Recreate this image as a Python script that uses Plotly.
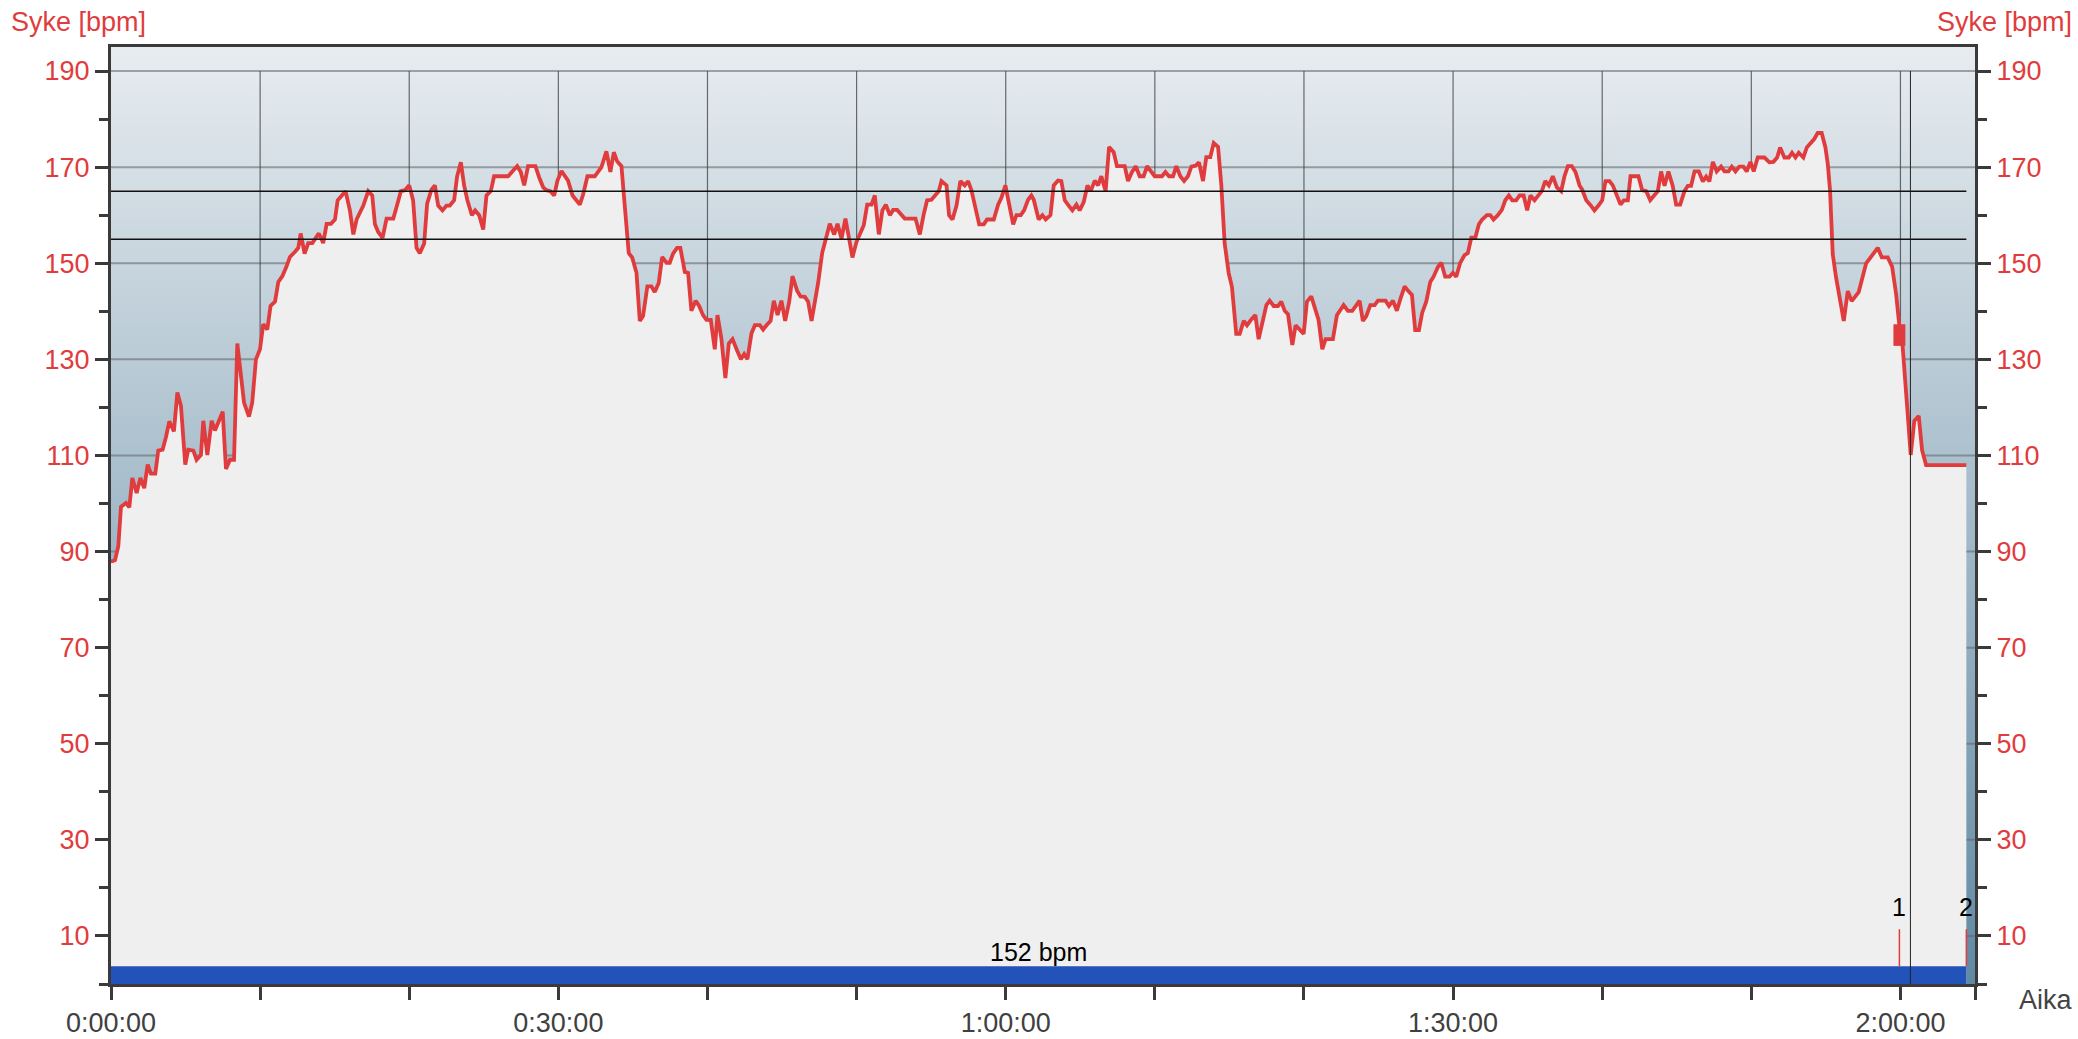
import plotly.graph_objects as go

# ---------------- data (time in minutes, heart rate in bpm) ----------------
seg_a_time = [0.0, 0.11, 0.27, 0.49, 0.67, 1.01, 1.23, 1.43, 1.72, 1.97,
              2.23, 2.46, 2.68, 2.97, 3.17, 3.46, 3.69, 3.91, 4.22, 4.45,
              4.69, 4.98, 5.18, 5.52, 5.74, 6.03, 6.19, 6.46, 6.75, 6.97,
              7.49, 7.71, 7.98, 8.25, 8.47, 8.92, 9.25, 9.47, 9.72, 9.99,
              10.21, 10.48, 10.70, 11.0, 11.22, 11.49, 11.78, 12.0, 12.34, 12.56,
              12.72, 12.98, 13.23, 13.5, 13.94, 14.23, 14.46, 14.75, 15.02, 15.2,
              15.73, 16.02, 16.25, 16.47, 16.92, 17.25, 17.52, 17.7, 17.92, 18.21,
              18.48, 18.93, 19.15, 19.44, 19.71, 20.0]
seg_a_hr = [88.0, 88.0, 88.2, 91.1, 99.3, 100.1, 99.2, 105.3, 102.2, 105.3,
            103.2, 108.1, 106.2, 106.2, 111.0, 111.2, 113.9, 117.1, 115.0, 123.1,
            120.3, 108.1, 111.2, 111.0, 109.1, 110.1, 117.2, 110.1, 117.2, 115.2,
            119.1, 107.2, 109.1, 109.1, 133.3, 121.0, 118.1, 121.0, 130.0, 132.1,
            137.3, 136.2, 141.1, 142.0, 146.1, 147.3, 149.4, 151.3, 152.4, 153.2,
            156.2, 152.0, 154.2, 154.2, 156.2, 154.2, 158.2, 158.2, 159.1, 163.1,
            165.0, 161.0, 156.0, 159.1, 162.0, 165.0, 164.1, 158.1, 156.5, 155.3,
            159.3, 159.3, 161.7, 165.0, 165.2, 166.2]

seg_b_time = [20.26, 20.49, 20.71, 21.0, 21.2, 21.49, 21.72, 21.94, 22.23, 22.5,
              22.72, 23.01, 23.21, 23.46, 23.68, 23.9, 24.2, 24.42, 24.69, 24.96,
              25.18, 25.47, 25.69, 26.63, 26.97, 27.24, 27.48, 27.71, 27.97, 28.46,
              28.71, 28.98, 29.2, 29.47, 29.72, 29.94, 30.21, 30.65, 30.95, 31.44,
              31.66, 31.95, 32.44, 32.89, 33.22, 33.49, 33.72, 33.94, 34.23, 34.45,
              34.72, 34.95, 35.24, 35.46, 35.68, 35.97, 36.24, 36.46, 36.73, 36.96,
              37.25, 37.47, 37.69, 37.96, 38.18, 38.48, 38.7, 38.92, 39.21, 39.44,
              39.7, 39.93, 40.22, 40.49, 40.67, 40.93, 41.2]
seg_b_hr = [163.1, 153.2, 152.1, 154.1, 162.4, 165.3, 166.2, 162.0, 161.0, 162.0,
            162.0, 163.1, 168.1, 171.0, 166.2, 163.1, 160.0, 161.0, 160.0, 157.0,
            164.1, 165.0, 168.1, 168.1, 169.3, 170.2, 169.0, 166.2, 170.2, 170.2,
            167.9, 165.8, 165.2, 165.0, 164.1, 167.2, 169.2, 167.2, 164.1, 162.2,
            164.3, 168.1, 168.1, 170.0, 173.3, 169.0, 173.1, 171.2, 170.2, 162.0,
            152.1, 151.2, 148.0, 138.0, 139.0, 145.2, 145.2, 144.0, 145.9, 151.3,
            150.1, 150.1, 152.0, 153.2, 153.2, 148.2, 148.0, 140.1, 142.2, 141.1,
            139.2, 138.2, 138.2, 132.1, 139.2, 134.4, 126.1]

seg_c_time = [41.43, 41.68, 41.95, 42.24, 42.46, 42.68, 42.95, 43.18, 43.51, 43.73,
              43.96, 44.23, 44.45, 44.7, 44.96, 45.21, 45.48, 45.7, 46.01, 46.24,
              46.53, 46.75, 46.98, 47.42, 47.69, 47.94, 48.2, 48.5, 48.72, 48.99,
              49.25, 49.5, 49.72, 49.99, 50.22, 50.48, 50.71, 51.0, 51.22, 51.49,
              51.73, 51.96, 52.23, 52.45, 52.72, 53.23, 53.95, 54.24, 54.51, 54.73,
              55.02, 55.24, 55.51, 55.69, 56.03, 56.2, 56.43, 56.7, 56.96, 57.25,
              57.48, 57.7, 58.22, 58.53, 58.75, 59.2, 59.49, 59.71, 59.98, 60.2,
              60.5, 60.72, 61.01, 61.23, 61.5, 61.72]
seg_c_hr = [133.3, 134.2, 132.1, 130.0, 131.1, 130.0, 135.4, 137.1, 137.1, 136.2,
            137.1, 138.0, 142.2, 139.2, 142.2, 138.0, 142.0, 147.3, 144.3, 143.1,
            143.0, 142.0, 138.0, 145.9, 152.1, 155.1, 158.2, 156.0, 158.2, 155.1,
            159.3, 155.1, 151.2, 154.4, 156.2, 157.9, 162.2, 162.2, 164.1, 156.0,
            161.0, 162.2, 160.0, 161.1, 161.1, 159.3, 159.3, 156.0, 160.3, 163.1,
            163.2, 164.1, 165.0, 167.1, 166.2, 160.0, 159.1, 162.0, 167.1, 166.2,
            167.1, 165.2, 158.1, 158.1, 159.1, 159.1, 162.2, 163.6, 166.2, 162.7,
            158.1, 160.0, 160.0, 161.0, 163.2, 164.1]

seg_d_time = [61.88, 62.21, 62.46, 62.68, 63.0, 63.22, 63.51, 63.73, 63.96, 64.22,
              64.47, 64.74, 64.96, 65.23, 65.48, 65.7, 65.97, 66.19, 66.41, 66.7,
              66.93, 67.24, 67.46, 67.98, 68.2, 68.47, 68.72, 68.98, 69.25, 69.48,
              69.99, 70.48, 70.71, 70.95, 71.22, 71.44, 71.71, 71.96, 72.22, 72.45,
              72.74, 72.96, 73.23, 73.45, 73.72, 73.95, 74.24, 74.46, 74.68, 74.95,
              75.17, 75.46, 75.69, 75.96, 76.18, 76.47, 76.74, 76.96, 77.21, 77.48,
              77.7, 77.97, 78.26, 78.48, 78.71, 78.93, 79.22, 79.44, 79.71, 79.98,
              80.2, 80.49, 80.98, 81.23, 81.45, 81.94, 82.21, 82.46]
seg_d_hr = [163.2, 159.1, 160.0, 159.1, 160.0, 166.2, 167.2, 167.1, 163.1, 162.0,
            161.0, 162.2, 161.0, 162.7, 166.2, 165.0, 167.2, 166.2, 168.1, 165.0,
            174.2, 173.1, 170.2, 170.2, 167.1, 169.0, 170.2, 168.1, 168.1, 170.2,
            168.1, 168.1, 169.0, 168.1, 168.1, 170.2, 168.1, 167.1, 168.1, 170.1,
            170.3, 171.0, 167.1, 172.1, 172.1, 175.0, 174.2, 166.2, 154.2, 148.0,
            145.1, 135.3, 135.3, 138.0, 137.1, 138.3, 139.2, 134.2, 137.3, 141.3,
            142.2, 141.1, 141.1, 142.0, 140.1, 139.4, 133.0, 137.1, 136.2, 135.3,
            142.0, 143.1, 138.2, 132.1, 134.2, 134.2, 139.2, 140.2]

seg_e_time = [82.66, 82.95, 83.24, 83.73, 83.95, 84.18, 84.45, 84.74, 84.96, 85.47,
              85.7, 85.97, 86.23, 86.48, 86.75, 86.97, 87.24, 87.46, 87.71, 87.93,
              88.2, 88.47, 88.69, 88.98, 89.21, 89.47, 89.76, 89.99, 90.21, 90.48,
              90.77, 90.99, 91.22, 91.49, 91.73, 91.95, 92.27, 92.49, 92.71, 93.0,
              93.27, 93.5, 93.74, 93.97, 94.23, 94.46, 94.73, 94.97, 95.19, 95.46,
              95.73, 95.95, 96.18, 96.42, 96.69, 96.96, 97.25, 97.47, 97.7, 97.96,
              98.21, 98.48, 98.66, 98.93, 99.19, 99.48, 99.75, 100.0, 100.22, 100.49,
              100.71, 101.23, 101.45, 101.72, 101.9, 102.43, 102.68, 102.95, 103.22, 103.51,
              103.73]
seg_e_hr = [141.3, 140.1, 140.1, 142.2, 138.0, 139.0, 141.3, 141.3, 142.2, 142.2,
            141.1, 142.2, 140.1, 142.7, 145.2, 144.3, 143.4, 136.1, 136.1, 139.7,
            142.0, 146.1, 147.2, 149.2, 150.1, 147.2, 147.2, 148.0, 147.2, 150.1,
            151.7, 152.1, 155.3, 155.3, 158.1, 159.1, 160.0, 160.0, 159.1, 160.0,
            161.1, 163.1, 164.1, 163.1, 163.1, 164.1, 164.1, 161.0, 164.1, 163.1,
            164.1, 165.0, 167.1, 166.2, 168.1, 165.8, 165.0, 168.1, 170.2, 170.2,
            169.0, 166.2, 165.3, 163.1, 162.2, 161.0, 162.0, 163.1, 167.1, 167.1,
            166.2, 162.2, 163.1, 163.1, 168.1, 168.1, 165.2, 165.0, 163.1, 164.1,
            165.0]

seg_f_time = [103.95, 104.18, 104.44, 104.73, 104.96, 105.23, 105.52, 105.74, 105.96, 106.19,
              106.48, 106.75, 106.97, 107.19, 107.42, 107.68, 107.97, 108.2, 108.47, 108.69,
              108.94, 109.2, 109.47, 109.69, 109.94, 110.16, 110.43, 110.88, 111.21, 111.48,
              111.73, 111.93, 112.22, 112.51, 112.73, 112.96, 113.18, 113.49, 113.72, 114.0,
              114.23, 114.45, 114.72, 114.97, 115.13, 115.28, 115.46, 115.68, 115.95, 116.2,
              116.47, 116.73, 117.2, 117.7, 118.48, 118.75, 119.15, 119.44, 119.71, 119.93,
              120.15, 120.38, 120.69, 120.93, 121.23, 121.45, 121.72, 124.42]
seg_f_hr = [169.1, 166.1, 169.1, 166.1, 162.2, 162.2, 165.0, 166.1, 166.1, 169.1,
            169.1, 167.0, 168.0, 167.0, 171.1, 169.1, 170.1, 169.1, 169.1, 170.1,
            169.1, 170.1, 170.1, 169.1, 171.1, 169.1, 172.0, 172.0, 171.0, 171.1,
            172.0, 174.1, 172.0, 172.0, 173.0, 172.0, 173.0, 172.0, 174.1, 175.1,
            175.9, 177.1, 177.1, 174.1, 170.6, 165.1, 151.9, 147.1, 142.2, 138.0,
            144.2, 142.1, 144.0, 150.0, 153.2, 151.2, 151.2, 149.3, 143.6, 136.9,
            132.6, 123.6, 110.1, 117.2, 118.2, 111.1, 108.0, 108.0]

time_min = seg_a_time + seg_b_time + seg_c_time + seg_d_time + seg_e_time + seg_f_time
hr_bpm = seg_a_hr + seg_b_hr + seg_c_hr + seg_d_hr + seg_e_hr + seg_f_hr
assert len(time_min) == len(hr_bpm)

lap_times = [119.93, 124.42]          # minutes
lap_labels = ["1", "2"]
lap1_marker_hr = [132.8, 137.3]       # bpm span of the lap-1 marker
avg_hr = 152
cursor_time = 120.67                  # minutes
zone_limits = [155, 165]

y_major = list(range(10, 191, 20))
y_minor = list(range(0, 181, 20))
x_ticks = list(range(0, 121, 10)) + [125]
x_grid = list(range(10, 121, 10))

X_MAX = 125
Y_MAX = 195


def fmt(m):
    return f"{m // 60}:{m % 60:02d}:00"


x_ticktext = [fmt(m) if (m % 30 == 0 and m <= 120) else "" for m in x_ticks]

RED = "#e03c3e"
AXIS = "#3a3a3a"
FONT = "Liberation Sans, Arial, Helvetica, sans-serif"

fig = go.Figure()

# gradient background
fig.add_trace(go.Scatter(
    x=[0, X_MAX, X_MAX, 0, 0], y=[0, 0, Y_MAX, Y_MAX, 0],
    mode="lines", line=dict(width=0), fill="toself",
    fillgradient=dict(type="vertical",
                      colorscale=[[0, "#6089a2"], [1, "#e7ecf0"]]),
    hoverinfo="skip", showlegend=False))

# gridlines (drawn under the HR fill)
gx, gy = [], []
for v in y_major:
    gx += [0, X_MAX, None]
    gy += [v, v, None]
fig.add_trace(go.Scatter(x=gx, y=gy, mode="lines",
                         line=dict(color="rgba(95,98,102,0.55)", width=2),
                         hoverinfo="skip", showlegend=False))
vx, vy = [], []
for m in x_grid:
    vx += [m, m, None]
    vy += [0, 190, None]
fig.add_trace(go.Scatter(x=vx, y=vy, mode="lines",
                         line=dict(color="rgba(60,62,66,0.75)", width=1.2),
                         hoverinfo="skip", showlegend=False))

# heart rate
fig.add_trace(go.Scatter(x=time_min, y=hr_bpm, mode="lines",
                         line=dict(color=RED, width=3.8),
                         fill="tozeroy", fillcolor="#efefef",
                         showlegend=False))
# dummy on right axis so it renders
fig.add_trace(go.Scatter(x=time_min, y=hr_bpm, yaxis="y2", mode="lines",
                         line=dict(width=0), opacity=0, hoverinfo="skip",
                         showlegend=False))

shapes = []
# average HR band
shapes.append(dict(type="rect", xref="x", yref="y", x0=0, x1=lap_times[-1],
                   y0=0, y1=3.7, fillcolor="#2352b9", line=dict(width=0),
                   layer="above"))
# zone limit lines
for z in zone_limits:
    shapes.append(dict(type="line", xref="x", yref="y", x0=0, x1=lap_times[-1],
                       y0=z, y1=z, line=dict(color="#111111", width=1.5),
                       layer="above"))
# lap markers
for t in lap_times:
    shapes.append(dict(type="line", xref="x", yref="y", x0=t, x1=t,
                       y0=3.7, y1=11.4, line=dict(color=RED, width=1.5),
                       layer="above"))
shapes.append(dict(type="rect", xref="x", yref="y",
                   x0=lap_times[0] - 0.4, x1=lap_times[0] + 0.4,
                   y0=lap1_marker_hr[0], y1=lap1_marker_hr[1],
                   fillcolor=RED, line=dict(width=0), layer="above"))
# cursor line
shapes.append(dict(type="line", xref="x", yref="y", x0=cursor_time, x1=cursor_time,
                   y0=0, y1=190, line=dict(color="#222222", width=1),
                   layer="above"))

annotations = []
for t, lab in zip(lap_times, lap_labels):
    annotations.append(dict(x=t, y=16, xref="x", yref="y", text=lab,
                            showarrow=False, font=dict(size=25, color="black", family=FONT),
                            xanchor="center", yanchor="middle"))
annotations.append(dict(x=lap_times[-1] / 2, y=6.6, xref="x", yref="y",
                        text=f"{avg_hr} bpm", showarrow=False,
                        font=dict(size=25, color="black", family=FONT),
                        xanchor="center", yanchor="middle"))
annotations.append(dict(x=0, y=1, xref="paper", yref="paper", text="Syke [bpm]",
                        showarrow=False, xanchor="left", yanchor="middle",
                        xshift=-102, yshift=25,
                        font=dict(size=27, color=RED, family=FONT)))
annotations.append(dict(x=1, y=1, xref="paper", yref="paper", text="Syke [bpm]",
                        showarrow=False, xanchor="right", yanchor="middle",
                        xshift=99, yshift=25,
                        font=dict(size=27, color=RED, family=FONT)))
annotations.append(dict(x=1, y=0, xref="paper", yref="paper", text="Aika",
                        showarrow=False, xanchor="left", yanchor="middle",
                        xshift=42, yshift=-16,
                        font=dict(size=27, color="#444444", family=FONT)))

yax = dict(range=[0, Y_MAX], showgrid=False, zeroline=False, showline=True,
           automargin=False,
           linecolor=AXIS, linewidth=3, ticks="outside", ticklen=13, tickwidth=2.5,
           tickcolor=AXIS, tickvals=y_major,
           tickfont=dict(size=27, color=RED, family=FONT),
           minor=dict(tickvals=y_minor, ticks="outside", ticklen=9, tickwidth=2.5,
                      tickcolor=AXIS, showgrid=False),
           fixedrange=True)

fig.update_layout(
    width=2078, height=1039,
    margin=dict(l=111, r=103, t=47, b=55, autoexpand=False),
    paper_bgcolor="white", plot_bgcolor="white",
    showlegend=False,
    font=dict(family=FONT),
    xaxis=dict(range=[0, X_MAX], showgrid=False, zeroline=False, showline=True,
               automargin=False,
               linecolor=AXIS, linewidth=3, mirror=True, ticks="outside",
               ticklen=13, tickwidth=2.5, tickcolor=AXIS,
               tickvals=x_ticks, ticktext=x_ticktext,
               ticklabelstandoff=0,
               tickfont=dict(size=27, color="#404040", family=FONT),
               fixedrange=True),
    yaxis=yax,
    yaxis2=dict(yax, overlaying="y", side="right", anchor="x"),
    shapes=shapes,
    annotations=annotations,
)

fig.write_html("out.html", config={"displayModeBar": False},
               post_script="document.body.style.margin='0';document.body.style.overflow='hidden';")
